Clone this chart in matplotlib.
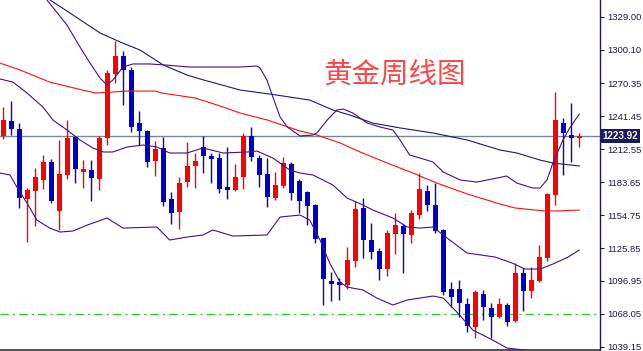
import matplotlib
matplotlib.use('Agg')
import matplotlib.pyplot as plt
from matplotlib.transforms import blended_transform_factory

## --- Data --- ##

opens = [1224.2, 1237.4, 1230.4, 1168.9, 1175.9, 1185.6, 1201.4, 1158.4, 1190.0, 1223.3,
         1192.6, 1194.4, 1186.5, 1222.5, 1278.7, 1294.5, 1282.2, 1235.6, 1228.6, 1202.3,
         1213.7, 1168.9, 1157.5, 1183.8, 1197.9, 1214.6, 1206.6, 1204.9, 1179.4, 1176.8,
         1188.2, 1224.2, 1204.9, 1190.8, 1169.8, 1180.3, 1199.6, 1184.7, 1175.0, 1163.6,
         1134.6, 1096.9, 1096.0, 1093.4, 1114.4, 1161.0, 1132.9, 1123.2, 1107.4, 1138.1,
         1145.2, 1137.3, 1154.8, 1175.9, 1163.6, 1141.7, 1089.8, 1089.8, 1076.7, 1056.5,
         1085.4, 1073.2, 1065.2, 1075.8, 1061.7, 1103.9, 1088.1, 1096.9, 1117.1, 1172.4,
         1235.6, 1225.1, 1222.5]
highs = [1249.7, 1255.0, 1235.6, 1178.5, 1196.1, 1207.5, 1204.0, 1220.7, 1238.3, 1224.2,
         1203.1, 1203.1, 1224.2, 1282.2, 1307.7, 1298.9, 1284.8, 1246.2, 1229.5, 1219.8,
         1223.3, 1175.0, 1188.2, 1218.9, 1209.3, 1224.2, 1209.3, 1209.3, 1214.6, 1199.6,
         1226.9, 1232.1, 1207.5, 1204.9, 1192.6, 1205.8, 1201.4, 1186.5, 1175.5, 1164.5,
         1135.0, 1104.8, 1099.5, 1126.7, 1167.1, 1169.8, 1147.8, 1125.9, 1141.7, 1156.6,
         1146.9, 1159.2, 1191.7, 1181.2, 1182.9, 1142.6, 1096.0, 1097.7, 1081.9, 1089.0,
         1089.0, 1077.5, 1081.9, 1077.5, 1112.7, 1108.3, 1109.2, 1128.5, 1174.2, 1262.9,
         1240.0, 1253.2, 1226.9]
lows = [1221.6, 1225.1, 1161.0, 1131.1, 1145.2, 1177.7, 1165.4, 1141.7, 1186.5, 1182.9,
        1178.5, 1167.1, 1176.8, 1216.3, 1270.8, 1251.5, 1227.7, 1216.3, 1197.0, 1189.1,
        1162.7, 1146.9, 1142.6, 1179.4, 1178.5, 1191.7, 1182.9, 1174.2, 1168.9, 1176.0,
        1177.7, 1202.3, 1179.4, 1161.9, 1168.0, 1178.5, 1168.0, 1156.6, 1146.0, 1130.3,
        1075.8, 1079.3, 1080.2, 1089.8, 1109.2, 1117.1, 1116.2, 1097.7, 1101.3, 1120.6,
        1103.9, 1130.3, 1151.3, 1158.4, 1139.0, 1084.6, 1074.0, 1065.2, 1052.1, 1046.8,
        1062.6, 1046.8, 1064.4, 1057.3, 1060.9, 1070.5, 1081.9, 1096.0, 1114.4, 1163.6,
        1190.0, 1201.4, 1214.6]
closes = [1238.3, 1230.4, 1169.8, 1176.8, 1188.2, 1201.4, 1167.1, 1190.8, 1222.5, 1195.2,
          1195.2, 1187.3, 1222.5, 1279.6, 1294.5, 1282.2, 1232.1, 1228.6, 1201.4, 1212.8,
          1166.3, 1156.6, 1182.9, 1197.9, 1202.3, 1206.6, 1204.0, 1177.7, 1176.8, 1188.2,
          1224.2, 1205.8, 1190.0, 1170.6, 1181.2, 1200.5, 1174.2, 1167.1, 1162.7, 1133.8,
          1098.6, 1094.2, 1093.4, 1115.3, 1160.1, 1132.9, 1122.3, 1107.4, 1139.0, 1146.0,
          1138.1, 1156.6, 1177.7, 1163.6, 1140.8, 1087.2, 1082.8, 1077.5, 1057.3, 1087.2,
          1074.0, 1065.2, 1076.7, 1060.9, 1103.9, 1088.1, 1097.7, 1117.9, 1173.3, 1238.3,
          1226.9, 1222.5, 1223.92]

# red moving average
ma_red_x = [-0.41, 2.1, 5.8, 8.3, 11.5, 15.6, 19.0, 19.8, 24.0, 27.1, 29.6, 33.0, 37.1, 39.2,
            42.1, 44.6, 48.0, 51.2, 54.2, 58.0, 62.1, 64.0, 67.7, 69.0, 72.0]
ma_red_y = [1288.3, 1282.2, 1271.6, 1267.3, 1262.0, 1263.7, 1263.7, 1262.0, 1257.6, 1250.6,
            1244.4, 1238.3, 1228.6, 1225.1, 1218.1, 1210.2, 1200.5, 1191.7, 1182.9, 1173.3,
            1164.5, 1161.0, 1158.4, 1158.4, 1159.2]

# navy slow average
ma_navy_x = [5.5, 5.84, 8.34, 12.1, 14.6, 17.1, 20.0, 22.96, 24.6, 29.6, 33.3, 38.3, 41.2,
             43.3, 46.2, 49.6, 53.7, 58.0, 62.1, 64.2, 67.1, 68.7, 72.0]
ma_navy_y = [1346.0, 1343.7, 1332.2, 1314.7, 1306.8, 1299.7, 1286.6, 1277.8, 1274.3, 1264.6,
             1261.1, 1255.8, 1247.1, 1242.7, 1235.6, 1231.3, 1226.9, 1220.7, 1211.9, 1209.3,
             1203.1, 1200.5, 1197.9]

# bollinger upper / middle / lower
bb_up_x = [5.09, 5.46, 7.96, 9.59, 10.84, 12.09, 12.96, 13.7, 14.96, 16.2, 18.3, 20.2, 23.3,
           27.1, 29.6, 31.7, 32.1, 32.96, 33.7, 34.6, 35.5, 37.1, 38.7, 39.2, 40.5, 41.7,
           42.5, 43.7, 45.5, 47.1, 48.7, 49.6, 50.8, 52.1, 53.7, 55.0, 57.1, 59.2, 61.7,
           62.9, 64.2, 66.2, 67.1, 67.96, 68.7, 69.96, 70.8, 72.0]
bb_up_y = [1346.3, 1343.7, 1321.7, 1302.4, 1288.3, 1275.2, 1269.0, 1273.4, 1284.8, 1287.5,
           1287.5, 1286.6, 1284.8, 1284.8, 1284.8, 1285.7, 1283.9, 1273.4, 1258.5, 1240.9,
           1232.1, 1224.2, 1225.1, 1226.9, 1238.3, 1247.1, 1247.9, 1244.4, 1235.6, 1232.1,
           1229.5, 1220.7, 1207.5, 1204.9, 1201.4, 1192.6, 1185.6, 1183.8, 1187.3, 1189.1,
           1182.9, 1178.5, 1178.5, 1185.6, 1200.5, 1220.7, 1231.3, 1243.5]

bb_mid_x = [-0.41, 1.2, 2.96, 4.96, 6.2, 7.96, 9.6, 11.2, 12.5, 13.7, 15.5, 17.5, 19.2, 20.8,
            22.96, 24.96, 27.5, 30.5, 31.7, 33.7, 35.8, 37.1, 38.7, 41.2, 42.96, 44.96, 46.2,
            48.7, 50.5, 52.1, 53.7, 55.8, 57.96, 61.5, 63.6, 65.2, 67.1, 68.7, 70.6, 72.0]
bb_mid_y = [1274.3, 1271.6, 1262.0, 1249.7, 1238.3, 1229.5, 1220.7, 1213.7, 1210.2, 1210.2,
            1214.6, 1216.3, 1214.6, 1209.3, 1209.3, 1213.7, 1209.3, 1210.2, 1211.0, 1204.9,
            1194.4, 1191.7, 1190.0, 1181.2, 1169.8, 1163.6, 1159.2, 1152.2, 1144.3, 1143.4,
            1144.3, 1132.9, 1121.5, 1117.9, 1112.7, 1107.4, 1107.4, 1111.8, 1117.9, 1124.1]

bb_low_x = [-0.41, 0.84, 1.7, 2.96, 4.2, 5.8, 7.1, 8.7, 10.5, 12.96, 14.96, 19.2, 20.8, 22.96,
            24.96, 26.2, 28.7, 32.96, 34.6, 37.1, 38.3, 39.6, 40.8, 42.1, 42.96, 44.96, 46.7,
            48.7, 50.5, 53.7, 55.0, 56.7, 58.7, 61.2, 62.96, 65.2, 67.1, 72.0]
bb_low_y = [1191.7, 1190.0, 1179.4, 1165.4, 1150.4, 1143.4, 1139.9, 1140.8, 1146.0, 1152.2,
            1143.4, 1144.3, 1132.9, 1135.5, 1137.3, 1141.7, 1136.4, 1137.3, 1153.1, 1154.8,
            1150.4, 1132.9, 1112.7, 1096.0, 1091.6, 1089.0, 1081.9, 1075.8, 1080.2, 1083.7,
            1081.9, 1069.6, 1053.8, 1045.0, 1038.0, 1036.3, 1031.0, 1028.0]

ytick_vals = [1329.00, 1300.10, 1270.35, 1241.45, 1212.55, 1183.65, 1154.75, 1125.85,
              1096.95, 1068.05, 1039.15]
ytick_labels = ['1329.00', '1300.10', '1270.35', '1241.45', '1212.55', '1183.65', '1154.75',
                '1125.85', '1096.95', '1068.05', '1039.15']
last_price = 1223.92
support_level = 1068.3
title = '黄金周线图'

## --- Plot --- ##

UP = '#ff0000'
DOWN = '#0000cc'
AXIS = '#1c1c4c'

fig = plt.figure(figsize=(6.43, 3.51), dpi=100)
ax = fig.add_axes([0, 1 / 351, 600 / 643, 350 / 351])

# candles
for i in range(len(opens)):
    o, h, l, c = opens[i], highs[i], lows[i], closes[i]
    col = UP if c >= o else DOWN
    ax.vlines(i, l, h, color=col, linewidth=1.0, zorder=3)
    bottom = min(o, c)
    height = max(abs(c - o), 1.8)
    ax.bar(i, height, bottom=bottom, width=0.62, color=col, edgecolor=col,
           linewidth=0, zorder=4)

# reference lines behind candles
ax.axhline(last_price, color='#778899', linewidth=1.0, zorder=2)
ax.axhline(support_level, color='#33cc33', linewidth=1.0, linestyle=(0, (6, 3, 1.5, 3)),
           zorder=2)

# indicator lines on top
ax.plot(ma_red_x, ma_red_y, color='#ff1010', linewidth=0.8, zorder=5)
ax.plot(ma_navy_x, ma_navy_y, color='#1a1a70', linewidth=0.8, zorder=5)
for xs, ys in [(bb_up_x, bb_up_y), (bb_mid_x, bb_mid_y), (bb_low_x, bb_low_y)]:
    ax.plot(xs, ys, color='#45108a', linewidth=0.8, zorder=5)

ax.set_xlim(-0.41, 74.59)
ax.set_ylim(1036.3, 1343.67)

# right price axis
ax.yaxis.tick_right()
ax.set_yticks(ytick_vals)
ax.set_yticklabels(ytick_labels, fontsize=6.8, family='Liberation Sans', color=AXIS)
ax.tick_params(axis='y', direction='out', length=3, width=0.8, color=AXIS, pad=2)
ax.set_xticks([])
for side in ['top', 'left']:
    ax.spines[side].set_visible(False)
ax.spines['right'].set_color(AXIS)
ax.spines['right'].set_linewidth(1.0)
ax.spines['bottom'].set_color('#333333')
ax.spines['bottom'].set_linewidth(1.2)

# current price box
trans = blended_transform_factory(ax.transAxes, ax.transData)
ax.text(1.004, last_price, f'{last_price:.2f}', transform=trans, ha='left', va='center',
        fontsize=7, fontweight='bold', family='Liberation Sans', color='white',
        bbox=dict(boxstyle='square,pad=0.2', facecolor='#1a1a5e', edgecolor='none'),
        clip_on=False, zorder=10)

# chart title
ax.text(0.657, 0.787, title, transform=ax.transAxes, ha='center', va='center',
        fontsize=20.5, color='#ff4646', family=['Noto Sans CJK SC', 'DejaVu Sans'],
        fontweight='light', zorder=6)

fig.savefig('out.png', dpi=100)
